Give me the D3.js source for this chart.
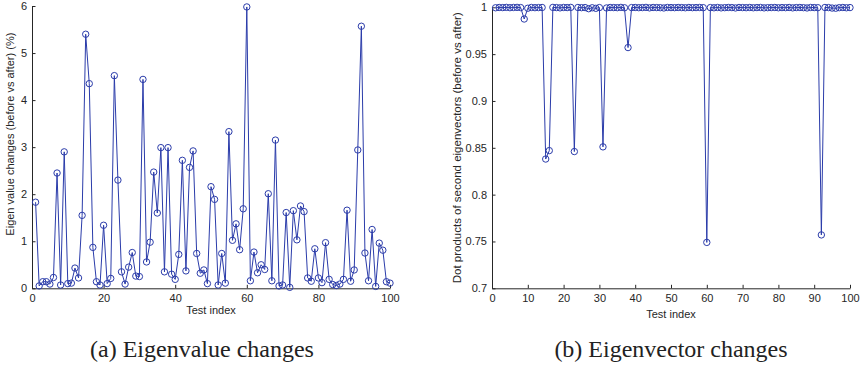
<!DOCTYPE html>
<html><head><meta charset="utf-8">
<script src="https://cdn.jsdelivr.net/npm/d3@7"></script>
<style>
html,body{margin:0;padding:0;background:#fff;}
svg{display:block;}
.tick text{font-family:Arial,"Liberation Sans",sans-serif;}
</style></head>
<body>
<svg id="c" width="862" height="368"></svg>
<script>
// ---------- data ----------
const testIndex = d3.range(1, 101);
const eigenvalueChange = [
 1.83,0.05,0.14,0.14,0.09,0.23,2.45,0.07,2.90,0.10,
 0.11,0.43,0.22,1.55,5.40,4.35,0.87,0.14,0.07,1.34,
 0.10,0.21,4.52,2.30,0.35,0.09,0.45,0.76,0.26,0.25,
 4.44,0.56,0.98,2.47,1.60,2.99,0.35,2.99,0.30,0.19,
 0.72,2.72,0.37,2.57,2.92,0.74,0.32,0.39,0.10,2.16,
 1.89,0.07,0.74,0.11,3.33,1.02,1.37,0.82,1.69,5.98,
 0.16,0.77,0.33,0.50,0.40,2.01,0.16,3.15,0.05,0.07,
 1.61,0.02,1.65,1.03,1.75,1.63,0.22,0.15,0.84,0.22,
 0.12,0.97,0.19,0.08,0.06,0.09,0.19,1.66,0.15,0.39,
 2.94,5.57,0.75,0.16,1.25,0.04,0.96,0.81,0.14,0.11
];
const eigenvectorDot = [
 0.9995,0.9998,0.9997,0.9999,0.9996,0.9998,0.9999,0.9997,0.9875,0.9990,
 0.9998,0.9996,0.9997,0.9998,0.838,0.847,0.9999,0.9997,0.9994,0.9998,
 0.9997,0.9999,0.846,0.9998,0.9996,0.9997,0.9985,0.9995,0.9989,0.9997,
 0.851,0.9993,0.9998,0.9997,0.9996,0.9999,0.9995,0.957,0.9997,0.9998,
 0.9996,0.9997,0.9999,0.9994,0.9998,0.9997,0.9996,0.9993,0.9998,0.9997,
 0.9996,0.9998,0.9997,0.9995,0.9998,0.9996,0.9997,0.9998,0.9996,0.749,
 0.9997,0.9995,0.9998,0.9994,0.9996,0.9998,0.9997,0.9993,0.9998,0.9997,
 0.9996,0.9998,0.9995,0.9997,0.9998,0.9994,0.9996,0.9997,0.9998,0.9995,
 0.9997,0.9996,0.9998,0.9994,0.9997,0.9998,0.9996,0.9993,0.9998,0.9997,
 0.9996,0.757,0.9998,0.9997,0.9992,0.9990,0.9996,0.9998,0.9995,0.9997
];
const xTicksA = [0,20,40,60,80,100];
const yTicksA = [0,1,2,3,4,5,6];
const xTicksB = [0,10,20,30,40,50,60,70,80,90,100];
const yTicksB = [0.7,0.75,0.8,0.85,0.9,0.95,1];
const labels = {
  xA: "Test index", yA: "Eigen value changes (before vs after) (%)",
  xB: "Test index", yB: "Dot products of second eigenvectors (before vs after)",
  capA: "(a) Eigenvalue changes", capB: "(b) Eigenvector changes"
};

// ---------- drawing ----------
const svg = d3.select("#c");
const lineColor = "#2b3caa";
const axisColor = "#262626";

function panel(opt){
  const g = svg.append("g");
  const x = d3.scaleLinear().domain([0,100]).range([opt.x0, opt.x1]);
  const y = d3.scaleLinear().domain(opt.ydom).range([opt.y0, opt.y1]);

  const xa = g.append("g").attr("transform",`translate(0,${opt.y0})`)
    .call(d3.axisBottom(x).tickValues(opt.xt).tickSizeInner(-3.5).tickSizeOuter(0).tickPadding(6).tickFormat(d3.format("d")));
  const ya = g.append("g").attr("transform",`translate(${opt.x0},0)`)
    .call(d3.axisLeft(y).tickValues(opt.yt).tickSizeInner(-3.5).tickSizeOuter(0).tickPadding(5).tickFormat(opt.yfmt));
  [xa,ya].forEach(a=>{
    a.select(".domain").attr("stroke",axisColor).attr("stroke-width",1);
    a.selectAll(".tick line").attr("stroke",axisColor);
    a.selectAll(".tick text").attr("fill",axisColor).attr("font-size",opt.fs);
  });

  const pts = testIndex.map((t,i)=>[t,opt.data[i]]);
  g.append("path").datum(pts)
    .attr("fill","none").attr("stroke",lineColor).attr("stroke-width",1)
    .attr("d", d3.line().x(d=>x(d[0])).y(d=>y(d[1])));
  g.selectAll("circle.m").data(pts).join("circle")
    .attr("class","m").attr("cx",d=>x(d[0])).attr("cy",d=>y(d[1])).attr("r",3.2)
    .attr("fill","none").attr("stroke",lineColor).attr("stroke-width",1);

  g.append("text").attr("x",(opt.x0+opt.x1)/2).attr("y",opt.xly)
    .attr("text-anchor","middle").attr("font-family","Arial, 'Liberation Sans', sans-serif")
    .attr("font-size",opt.fs).attr("fill",axisColor).text(opt.xl);
  g.append("text").attr("transform",`translate(${opt.ylx},${(opt.y0+opt.y1)/2 + opt.yloff}) rotate(-90)`)
    .attr("text-anchor","middle").attr("font-family","Arial, 'Liberation Sans', sans-serif")
    .attr("font-size",opt.yfs).attr("fill",axisColor).text(opt.yl);
  g.append("text").attr("x",opt.capx).attr("y",357)
    .attr("text-anchor","middle").attr("font-family","'Liberation Serif','DejaVu Serif',serif")
    .attr("font-size",24).attr("fill","#222").text(opt.cap);
}

panel({x0:32,x1:390,y0:288.3,y1:6,ydom:[0,6],xt:xTicksA,yt:yTicksA,yfmt:d3.format("d"),
  data:eigenvalueChange,fs:11,yfs:11,xl:labels.xA,yl:labels.yA,xly:314,ylx:14,yloff:-13,
  cap:labels.capA,capx:202});
panel({x0:492,x1:850,y0:288.3,y1:7.3,ydom:[0.7,1],xt:xTicksB,yt:yTicksB,yfmt:d=>d3.format("")(+d.toFixed(2)),
  data:eigenvectorDot,fs:11,yfs:11.5,xl:labels.xB,yl:labels.yB,xly:318,ylx:461,yloff:0,
  cap:labels.capB,capx:671});
</script>
</body></html>
